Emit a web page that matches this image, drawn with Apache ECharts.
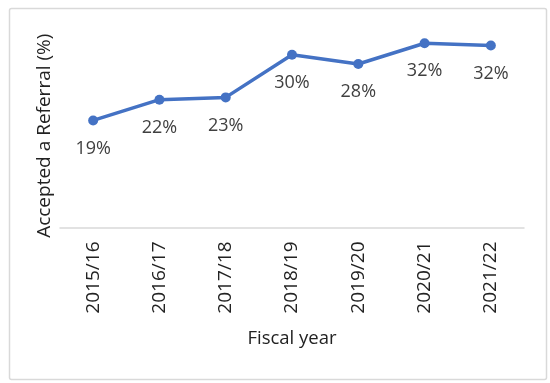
<!DOCTYPE html>
<html>
<head>
<meta charset="utf-8">
<style>
html,body{margin:0;padding:0;background:#fff;}
#c{width:550px;height:383px;}
</style>
<script src="https://cdn.jsdelivr.net/npm/echarts@6/dist/echarts.min.js"></script>
</head>
<body>
<div id="c"></div>
<script>
const categories = ['2015/16','2016/17','2017/18','2018/19','2019/20','2020/21','2021/22'];
const acceptedPct = [18.6, 22.2, 22.6, 30.0, 28.4, 32.0, 31.6];
const xAxisTitle = 'Fiscal year';
const yAxisTitle = 'Accepted a Referral (%)';

const chart = echarts.init(document.getElementById('c'), null, {renderer:'canvas'});
const font = '"Open Sans", sans-serif';
chart.setOption({
  animation:false,
  backgroundColor:'#fff',
  graphic:[{
    type:'rect', left:7, top:6, z:-1,
    shape:{width:537, height:371, r:2},
    style:{fill:'none', stroke:'#D9D9D9', lineWidth:1.5}
  }],
  grid:{left:60, right:26, top:26, bottom:155.5},
  xAxis:{
    type:'category',
    data:categories,
    boundaryGap:true,
    name:xAxisTitle,
    nameLocation:'middle',
    nameGap:102,
    nameTextStyle:{fontFamily:font, fontSize:18.5, color:'#222'},
    axisLine:{lineStyle:{color:'#D9D9D9', width:1.5}},
    axisTick:{show:false},
    axisLabel:{rotate:90, margin:14, fontFamily:font, fontSize:19, color:'#222', interval:0}
  },
  yAxis:{
    type:'value',
    min:0, max:35, interval:5,
    name:yAxisTitle,
    nameLocation:'middle',
    nameGap:6,
    nameTextStyle:{fontFamily:font, fontSize:19, color:'#222', padding:[0,18,0,0]},
    axisLine:{show:false},
    axisTick:{show:false},
    axisLabel:{show:false},
    splitLine:{show:false}
  },
  series:[{
    type:'line',
    data:acceptedPct,
    symbol:'circle',
    symbolSize:10,
    lineStyle:{color:'#4472C4', width:3.5},
    itemStyle:{color:'#4472C4'},
    label:{
      show:true, position:'bottom', distance:14,
      fontFamily:font, fontSize:18, color:'#404040',
      formatter:p => Math.round(p.value) + '%'
    }
  }]
});
</script>
</body>
</html>
